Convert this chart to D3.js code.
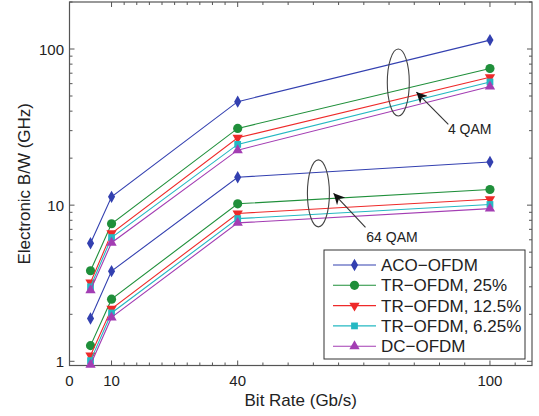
<!DOCTYPE html>
<html>
<head>
<meta charset="utf-8">
<script src="https://cdn.jsdelivr.net/npm/d3@7"></script>
<style>
  body { margin: 0; background: #fff; }
  svg { display: block; font-family: "Liberation Sans", Arial, Helvetica, sans-serif; }
</style>
</head>
<body>
<svg width="539" height="416"></svg>
<script>
// bit rate (Gb/s) of each measured point
var bitRates = [5, 10, 40, 100];

// electronic bandwidth (GHz), 4 QAM curves
var aco4 = [5.7, 11.3, 46, 114];
var tr25_4 = [3.8, 7.6, 31, 75];
var tr125_4 = [3.2, 6.6, 27, 66];
var tr625_4 = [3.0, 6.2, 24.5, 61.5];
var dc4 = [2.85, 5.75, 22.5, 57.5];

// electronic bandwidth (GHz), 64 QAM curves
var aco64 = [1.88, 3.78, 15.1, 18.9];
var tr25_64 = [1.26, 2.5, 10.2, 12.6];
var tr125_64 = [1.09, 2.17, 8.85, 10.9];
var tr625_64 = [1.01, 2.04, 8.2, 10.1];
var dc64 = [0.95, 1.91, 7.7, 9.5];

var seriesNames = ['ACO\u2212OFDM', 'TR\u2212OFDM, 25%', 'TR\u2212OFDM, 12.5%', 'TR\u2212OFDM, 6.25%', 'DC\u2212OFDM'];

// axis ticks
var xTicks = [0, 10, 40, 100];
var xMinor = [13, 16, 19, 22, 25, 28, 31, 34, 37, 46, 52, 58, 64, 70, 76, 82, 88, 94, 106];
var yTicks = [1, 10, 100];
var yMinor = [2, 3, 4, 5, 6, 7, 8, 9, 20, 30, 40, 50, 60, 70, 80, 90, 200];

// annotation ellipses + arrows, in data units
var annotations = [
  {label: '4 QAM', cx: 78.2, cy: 61, tailX: 90.1, tailY: 32.9, headX: 82.5, headY: 53, textX: 90, textY: 28.4},
  {label: '64 QAM', cx: 59.2, cy: 11.9, tailX: 70.4, tailY: 7.2, headX: 62.8, headY: 11.9, textX: 70.6, textY: 5.85}
];

var svg = d3.select('svg');

var plotL = 69.5, plotR = 532, plotT = 2, plotB = 365.5;

var x = d3.scaleLinear().domain([0, 110]).range([plotL, plotR]);
var y = d3.scaleLog().domain([0.94, 200]).range([plotB, plotT]);

var styles = [
  {color: '#3340b0', symbol: d3.symbolDiamond, size: 44, rotate: 0},
  {color: '#1f8f3a', symbol: d3.symbolCircle, size: 66, rotate: 0},
  {color: '#ee2a2a', symbol: d3.symbolTriangle, size: 46, rotate: 180},
  {color: '#25b8c2', symbol: d3.symbolSquare, size: 46, rotate: 0},
  {color: '#a33db3', symbol: d3.symbolTriangle, size: 46, rotate: 0}
];

var curves4 = [aco4, tr25_4, tr125_4, tr625_4, dc4];
var curves64 = [aco64, tr25_64, tr125_64, tr625_64, dc64];

var line = d3.line()
  .x(d => x(d[0]))
  .y(d => y(d[1]));

// frame
svg.append('rect')
  .attr('x', plotL).attr('y', plotT)
  .attr('width', plotR - plotL).attr('height', plotB - plotT)
  .attr('fill', 'none').attr('stroke', '#555').attr('stroke-width', 1.2);

// ticks on all four sides, pointing in
var tickG = svg.append('g').attr('stroke', '#555').attr('stroke-width', 1);
xTicks.concat(xMinor).forEach(v => {
  var len = xTicks.indexOf(v) >= 0 ? 5 : 3;
  tickG.append('line').attr('x1', x(v)).attr('x2', x(v)).attr('y1', plotB).attr('y2', plotB - len);
  tickG.append('line').attr('x1', x(v)).attr('x2', x(v)).attr('y1', plotT).attr('y2', plotT + len);
});
yTicks.concat(yMinor).forEach(v => {
  var len = yTicks.indexOf(v) >= 0 ? 5 : 3;
  tickG.append('line').attr('y1', y(v)).attr('y2', y(v)).attr('x1', plotL).attr('x2', plotL + len);
  tickG.append('line').attr('y1', y(v)).attr('y2', y(v)).attr('x1', plotR).attr('x2', plotR - len);
});

svg.selectAll('.xlab')
  .data(xTicks)
  .enter()
  .append('text')
  .attr('x', d => x(d))
  .attr('y', 386)
  .attr('text-anchor', 'middle')
  .attr('font-size', 15)
  .attr('fill', '#222')
  .text(d => d);

svg.selectAll('.ylab')
  .data(yTicks)
  .enter()
  .append('text')
  .attr('x', 64)
  .attr('y', d => y(d) + 5.5)
  .attr('text-anchor', 'end')
  .attr('font-size', 15)
  .attr('fill', '#222')
  .text(d => d);

svg.append('text')
  .attr('x', (plotL + plotR) / 2)
  .attr('y', 406)
  .attr('text-anchor', 'middle')
  .attr('font-size', 17)
  .attr('fill', '#222')
  .text('Bit Rate (Gb/s)');

svg.append('text')
  .attr('transform', `translate(30, ${(plotT + plotB) / 2}) rotate(-90)`)
  .attr('text-anchor', 'middle')
  .attr('font-size', 17)
  .attr('fill', '#222')
  .text('Electronic B/W (GHz)');

// series: line + markers, 4 QAM and 64 QAM share the style
styles.forEach((s, i) => {
  var g = svg.append('g');
  [curves4[i], curves64[i]].forEach(vals => {
    var pts = bitRates.map((b, j) => [b, vals[j]]);
    g.append('path')
      .attr('d', line(pts))
      .attr('fill', 'none')
      .attr('stroke', s.color)
      .attr('stroke-width', 1.1);
    g.selectAll(null)
      .data(pts)
      .enter()
      .append('path')
      .attr('transform', d => `translate(${x(d[0])}, ${y(d[1])}) rotate(${s.rotate})`)
      .attr('d', d3.symbol(s.symbol, s.size))
      .attr('fill', s.color);
  });
});

// annotations
svg.append('defs').append('marker')
  .attr('id', 'arrow')
  .attr('viewBox', '0 0 10 10')
  .attr('refX', 10).attr('refY', 5)
  .attr('markerWidth', 11).attr('markerHeight', 11)
  .attr('markerUnits', 'userSpaceOnUse')
  .attr('orient', 'auto')
  .append('path')
  .attr('d', 'M0,0 L10,5 L0,10 L3,5 Z')
  .attr('fill', '#111');

var ann = svg.selectAll('.ann')
  .data(annotations)
  .enter()
  .append('g');

ann.append('ellipse')
  .attr('cx', d => x(d.cx))
  .attr('cy', d => y(d.cy))
  .attr('rx', 11)
  .attr('ry', 33.5)
  .attr('fill', 'none')
  .attr('stroke', '#444')
  .attr('stroke-width', 1.1);

ann.append('line')
  .attr('x1', d => x(d.tailX)).attr('y1', d => y(d.tailY))
  .attr('x2', d => x(d.headX)).attr('y2', d => y(d.headY))
  .attr('stroke', '#333')
  .attr('stroke-width', 1.1)
  .attr('marker-end', 'url(#arrow)');

ann.append('text')
  .attr('x', d => x(d.textX))
  .attr('y', d => y(d.textY))
  .attr('font-size', 14)
  .attr('fill', '#222')
  .text(d => d.label);

// legend
var legend = svg.append('g').attr('transform', 'translate(324, 250)');
legend.append('rect')
  .attr('width', 201).attr('height', 109)
  .attr('fill', '#fff').attr('stroke', '#333').attr('stroke-width', 1);

var rows = legend.selectAll('.row')
  .data(styles)
  .enter()
  .append('g')
  .attr('transform', (d, i) => `translate(0, ${15 + i * 20.3})`);

rows.append('line')
  .attr('x1', 9).attr('x2', 52)
  .attr('stroke', d => d.color)
  .attr('stroke-width', 1.1);

rows.append('path')
  .attr('transform', d => `translate(30.5, 0) rotate(${d.rotate})`)
  .attr('d', d => d3.symbol(d.symbol, d.size)())
  .attr('fill', d => d.color);

rows.append('text')
  .attr('x', 57)
  .attr('y', 6)
  .attr('font-size', 17)
  .attr('fill', '#222')
  .text((d, i) => seriesNames[i]);
</script>
</body>
</html>
